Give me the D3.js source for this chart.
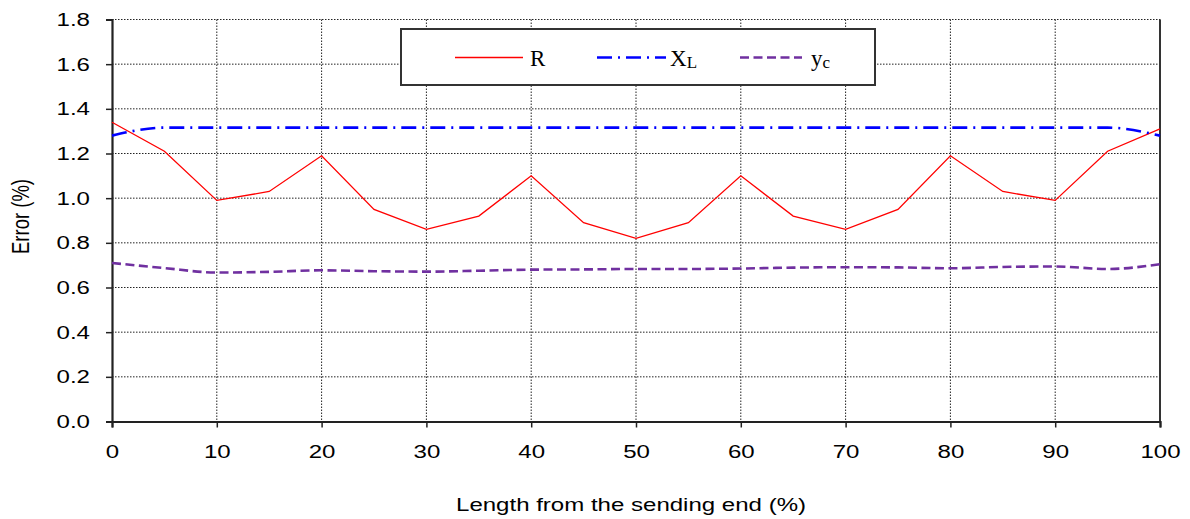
<!DOCTYPE html>
<html>
<head>
<meta charset="utf-8">
<script src="https://cdn.jsdelivr.net/npm/d3@7"></script>
<style>
  body { margin: 0; background: #fff; }
  svg { display: block; }
  .tick text { font-family: "Liberation Sans", Arial, sans-serif; font-size: 18.5px; fill: #000; }
  .axis-title { font-family: "Liberation Sans", Arial, sans-serif; font-size: 18.5px; fill: #000; }
  .legend text { font-family: "Liberation Serif", "DejaVu Serif", serif; font-size: 23px; fill: #000; }
</style>
</head>
<body>
<svg id="chart"></svg>
<script>
// chart data
const positions = [0, 5, 10, 15, 20, 25, 30, 35, 40, 45, 50, 55, 60, 65, 70, 75, 80, 85, 90, 95, 100];
const errR  = [1.34, 1.21, 0.99, 1.03, 1.19, 0.95, 0.86, 0.92, 1.10, 0.89, 0.82, 0.89, 1.10, 0.92, 0.86, 0.95, 1.19, 1.03, 0.99, 1.21, 1.31];
const errXL = [1.28, 1.316, 1.316, 1.316, 1.316, 1.316, 1.316, 1.316, 1.316, 1.316, 1.316, 1.316, 1.316, 1.316, 1.316, 1.316, 1.316, 1.316, 1.316, 1.316, 1.28];
const errYc = [0.710, 0.687, 0.667, 0.670, 0.677, 0.673, 0.671, 0.675, 0.680, 0.681, 0.683, 0.683, 0.685, 0.689, 0.691, 0.690, 0.686, 0.692, 0.694, 0.683, 0.704];
const xTicks = [0, 10, 20, 30, 40, 50, 60, 70, 80, 90, 100];
const yTicks = [0, 0.2, 0.4, 0.6, 0.8, 1.0, 1.2, 1.4, 1.6, 1.8];

const width = 1190, height = 519;
const margin = {top: 19.5, right: 30, bottom: 97.5, left: 112};
const innerW = width - margin.left - margin.right;
const innerH = height - margin.top - margin.bottom;
const stretch = 1.3; // the reference text is drawn wider than normal

const svg = d3.select('#chart')
    .attr('width', width)
    .attr('height', height);

const g = svg.append('g')
    .attr('transform', `translate(${margin.left},${margin.top})`);

const x = d3.scaleLinear().domain([0, 100]).range([0, innerW]);
const y = d3.scaleLinear().domain([0, 1.8]).range([innerH, 0]);

// grid
g.append('g')
    .selectAll('line')
    .data(yTicks.slice(1))
    .join('line')
    .attr('x1', 0).attr('x2', innerW)
    .attr('y1', d => y(d)).attr('y2', d => y(d))
    .attr('stroke', '#222').attr('stroke-width', 1).attr('stroke-dasharray', '1.5,1.5');

g.append('g')
    .selectAll('line')
    .data(xTicks.slice(1))
    .join('line')
    .attr('x1', d => x(d)).attr('x2', d => x(d))
    .attr('y1', 0).attr('y2', innerH)
    .attr('stroke', '#222').attr('stroke-width', 1).attr('stroke-dasharray', '1.5,1.5');

// right border
g.append('line')
    .attr('x1', innerW).attr('x2', innerW)
    .attr('y1', 0).attr('y2', innerH)
    .attr('stroke', '#333').attr('stroke-width', 2);

// axes
const xAxis = d3.axisBottom(x).tickValues(xTicks).tickSize(6).tickPadding(17).tickFormat(d3.format('d'));
const yAxis = d3.axisLeft(y).tickValues(yTicks).tickSize(6).tickFormat(d3.format('.1f'));

const xAxisG = g.append('g')
    .attr('transform', `translate(0,${innerH})`)
    .call(xAxis);
const yAxisG = g.append('g').call(yAxis);

[xAxisG, yAxisG].forEach(a => {
    a.select('.domain').attr('stroke', '#222').attr('stroke-width', 2.2);
    a.selectAll('.tick line').attr('stroke', '#222').attr('stroke-width', 1.5);
    a.selectAll('.tick text').attr('transform', `scale(${stretch},1)`);
});
yAxisG.selectAll('.tick text').attr('x', -22 / stretch);

// series
const series = [
    {name: 'R', values: errR, color: '#ff0000', width: 1.3, dash: null, curve: d3.curveLinear},
    {name: 'XL', values: errXL, color: '#0000ff', width: 2.6, dash: '15,6,2,6', curve: d3.curveMonotoneX},
    {name: 'yc', values: errYc, color: '#7030a0', width: 2.6, dash: '9,4.5', curve: d3.curveMonotoneX}
];

series.forEach(s => {
    const line = d3.line()
        .x((d, i) => x(positions[i]))
        .y(d => y(d))
        .curve(s.curve);
    g.append('path')
        .datum(s.values)
        .attr('fill', 'none')
        .attr('stroke', s.color)
        .attr('stroke-width', s.width)
        .attr('stroke-dasharray', s.dash)
        .attr('d', line);
});

// axis titles
svg.append('text')
    .attr('class', 'axis-title')
    .attr('transform', `translate(29,${margin.top + innerH / 2 - 4}) scale(${stretch},1) rotate(-90)`)
    .attr('text-anchor', 'middle')
    .text('Error (%)');

svg.append('text')
    .attr('class', 'axis-title')
    .attr('transform', `translate(631,511) scale(${stretch},1)`)
    .attr('text-anchor', 'middle')
    .text('Length from the sending end (%)');

// legend
const legend = svg.append('g').attr('class', 'legend');
legend.append('rect')
    .attr('x', 401).attr('y', 29)
    .attr('width', 474).attr('height', 56)
    .attr('fill', '#fff')
    .attr('stroke', '#333').attr('stroke-width', 2);

const legendItems = [
    {s: series[0], x1: 455, x2: 523, tx: 530, main: 'R', sub: null},
    {s: series[1], x1: 597, x2: 666, tx: 670, main: 'X', sub: 'L'},
    {s: series[2], x1: 740, x2: 802, tx: 811, main: 'y', sub: 'c'}
];
legendItems.forEach(item => {
    legend.append('line')
        .attr('x1', item.x1).attr('x2', item.x2)
        .attr('y1', 57.5).attr('y2', 57.5)
        .attr('stroke', item.s.color)
        .attr('stroke-width', item.s.name === 'R' ? 1.3 : 2.4)
        .attr('stroke-dasharray', item.s.dash);
    const t = legend.append('text')
        .attr('x', item.tx).attr('y', 65.5);
    t.append('tspan').text(item.main);
    if (item.sub) {
        t.append('tspan')
            .attr('dy', 2.5)
            .style('font-size', '17px')
            .text(item.sub);
    }
});
</script>
</body>
</html>
